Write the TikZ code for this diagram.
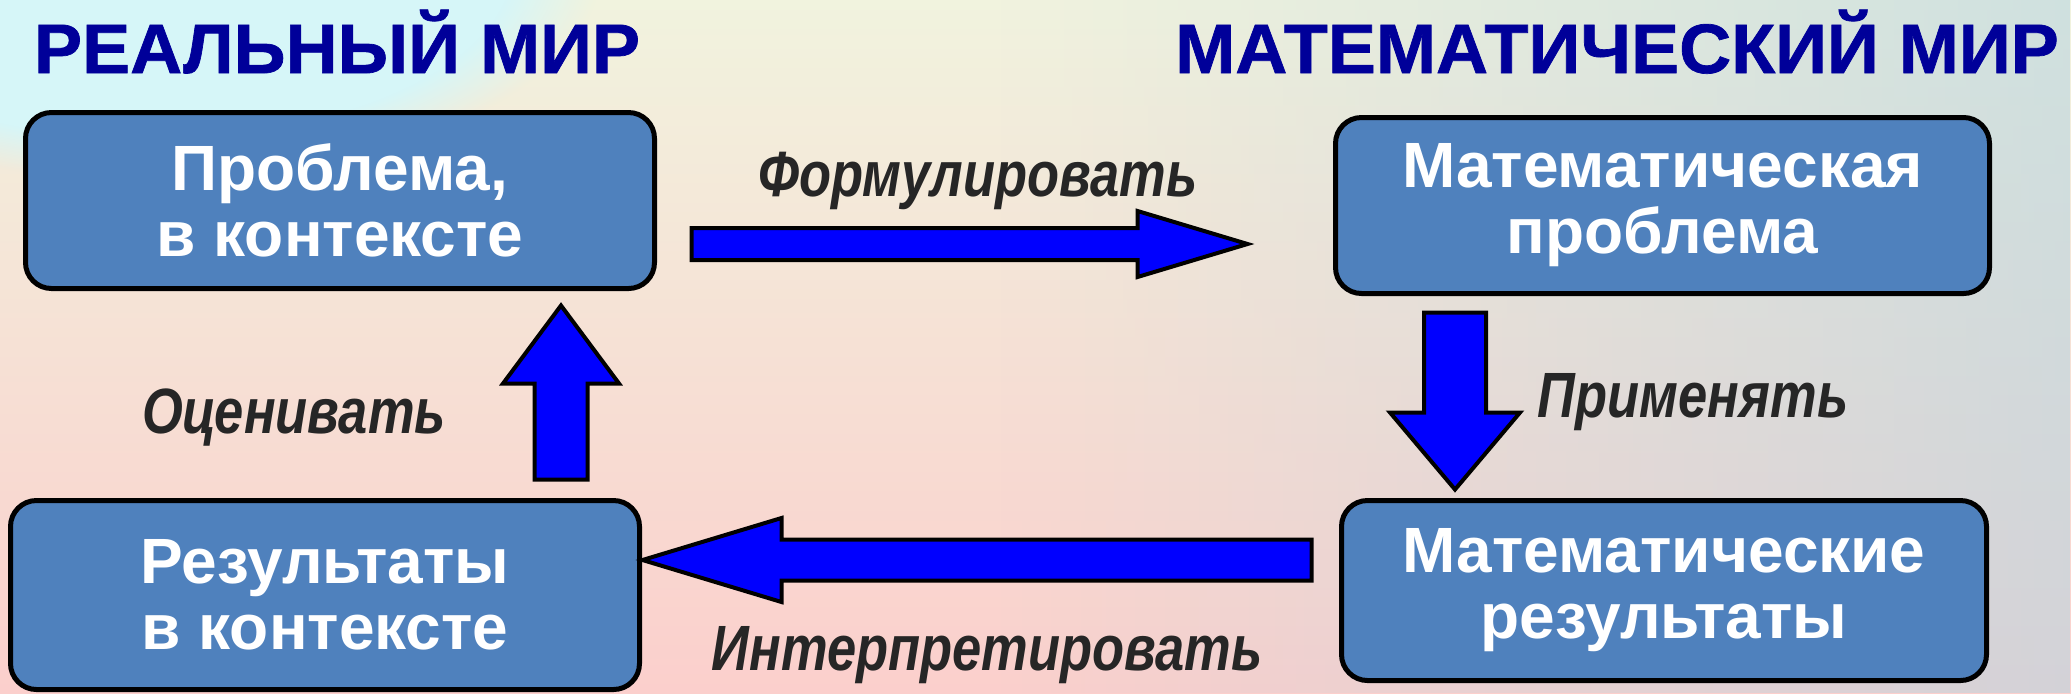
\documentclass[tikz,border=0pt]{standalone}
\usepackage{fontspec}
\setmainfont{Liberation Sans}
\newfontfamily\titrefont[FakeStretch=1.03,FakeBold=1]{Liberation Sans}
\newfontfamily\verbefont[FakeStretch=0.82]{Liberation Sans}
\usetikzlibrary{calc,fadings}

\definecolor{bleuboite}{HTML}{4F81BD}
\definecolor{bleufleche}{HTML}{0000FF}
\definecolor{bleutitre}{HTML}{000099}
\definecolor{grisverbe}{HTML}{262626}
\definecolor{fondhaut}{HTML}{F1F3DE}
\definecolor{fondmilieu}{HTML}{F8E8D3}
\definecolor{fondbas}{HTML}{FBCFCC}
\definecolor{fondbleu}{HTML}{B9D5E0}
\definecolor{fondcyan}{HTML}{D6F6F8}

\tikzstyle{boite}=[rectangle,rounded corners=13pt,draw=black,line width=2.5pt,fill=bleuboite,text=white,align=center,font=\fontsize{32}{33}\selectfont\bfseries]
\tikzstyle{titre}=[anchor=base,text=bleutitre,font=\titrefont\fontsize{35}{38}\selectfont\bfseries]
\tikzstyle{verbe}=[anchor=base,text=grisverbe,font=\verbefont\fontsize{32}{34}\selectfont\bfseries\itshape]
\tikzstyle{fleche}=[draw=black,fill=bleufleche,line width=2pt,miter limit=20]

% grosse fleche : depart, arrivee, demi-corps, demi-pointe, longueur pointe
\newcommand{\flechebloc}[5]{%
  \coordinate (talon) at ($(#2)!#5!(#1)$);
  \path[fleche] ($(#1)!#3!90:(#2)$) -- ($(talon)!#3!-90:(#1)$) -- ($(talon)!#4!-90:(#1)$) -- (#2)
    -- ($(talon)!#4!90:(#1)$) -- ($(talon)!#3!90:(#1)$) -- ($(#1)!#3!-90:(#2)$) -- cycle;}

\begin{document}
\begin{tikzpicture}[x=0.5pt,y=-0.5pt]

\useasboundingbox (0,0) rectangle (2071,693);
% fond
\shade[top color=fondhaut,middle color=fondmilieu,bottom color=fondbas] (0,0) rectangle (2071,693);
\fill[fondbleu,fill opacity=0.6,path fading=west] (1000,0) rectangle (2071,693);
\fill[fondcyan,path fading=circle with fuzzy edge 20 percent] (-300,-250) rectangle (600,180);

\node[titre] (reel) at (337,73) {РЕАЛЬНЫЙ МИР};
\node[titre] (math) at (1617,73) {МАТЕМАТИЧЕСКИЙ МИР};

\node[boite,minimum width=314.5pt,minimum height=88pt] (pb) at (340,200.5) {Проблема,\\в контексте};
\node[boite,minimum width=327pt,minimum height=88pt] (mpb) at (1662.5,205.5) {Математическая\\проблема};
\node[boite,minimum width=314.5pt,minimum height=94.5pt] (res) at (325,595) {Результаты\\в контексте};
\node[boite,minimum width=322.5pt,minimum height=90pt] (mres) at (1664,590.5) {Математические\\результаты};

\coordinate (f1) at ($(pb.east)+(34.5,43.5)$);
\coordinate (f2) at ($(mpb.west)+(-85.5,38.5)$);
\coordinate (a1) at ($(mpb.south)+(-207.5,16.5)$);
\coordinate (a2) at ($(mres.north)+(-209,-8.5)$);
\coordinate (i1) at ($(mres.west)+(-27.5,-30.5)$);
\coordinate (i2) at ($(res.east)+(0.5,-35)$);
\coordinate (e1) at ($(res.north)+(236,-18.5)$);
\coordinate (e2) at ($(pb.south)+(221,14.5)$);

\flechebloc{f1}{f2}{8pt}{16.5pt}{55pt}
\flechebloc{a1}{a2}{15.5pt}{32.5pt}{38.5pt}
\flechebloc{i1}{i2}{10.25pt}{21pt}{69.5pt}
\flechebloc{e1}{e2}{13.25pt}{29pt}{39pt}

\node[verbe] (formuler) at (978,196) {Формулировать};
\node[verbe] (appliquer) at (1693,417) {Применять};
\node[verbe] (interpreter) at (987,670) {Интерпретировать};
\node[verbe] (evaluer) at (294,433) {Оценивать};

\end{tikzpicture}
\end{document}
